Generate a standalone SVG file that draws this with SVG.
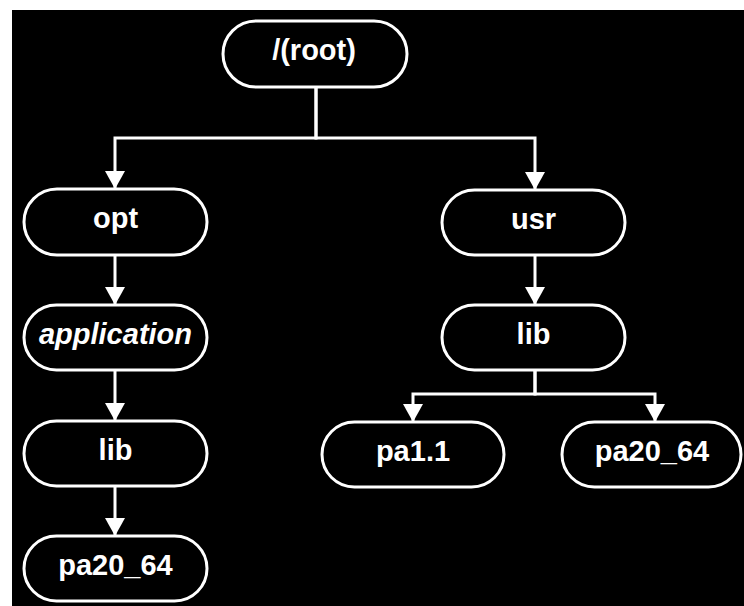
<svg xmlns="http://www.w3.org/2000/svg" width="744" height="606" viewBox="0 0 744 606">
<style>
.box{fill:#000;stroke:#fff;stroke-width:3}
.lbl{fill:#fff;font-family:"Liberation Sans",Arial,sans-serif;font-weight:bold;font-size:29px;text-anchor:middle}
.it{font-style:italic}
.con{fill:none;stroke:#fff;stroke-width:3;marker-end:url(#ah)}
</style>
<defs>
<marker id="ah" viewBox="0 0 18 20" refX="18" refY="10" markerWidth="18" markerHeight="20" markerUnits="userSpaceOnUse" orient="auto">
<path d="M0,0 L18,10 L0,20 z" fill="#fff"/>
</marker>
</defs>
<rect x="0" y="0" width="744" height="606" fill="#fff"/>
<rect x="12" y="10" width="732" height="596" fill="#000"/>
<g id="connectors">
<path class="con" d="M316,87 V138 H115 V189"/>
<path class="con" d="M316,87 V138 H535 V190"/>
<path class="con" d="M115,255 V305"/>
<path class="con" d="M535,255 V305"/>
<path class="con" d="M115,370 V421"/>
<path class="con" d="M115,486 V536"/>
<path class="con" d="M535,370 V394 H413 V422"/>
<path class="con" d="M535,370 V394 H655 V422"/>
</g>
<g id="root"><rect class="box" x="223" y="21" width="184" height="66" rx="33"/><text class="lbl" x="314" y="60">/(root)</text></g>
<g id="opt"><rect class="box" x="24" y="189" width="183" height="66" rx="33"/><text class="lbl" x="115.5" y="228">opt</text></g>
<g id="usr"><rect class="box" x="442" y="190" width="183" height="65" rx="32.5"/><text class="lbl" x="533.5" y="229">usr</text></g>
<g id="application"><rect class="box" x="24" y="305" width="183" height="65" rx="32.5"/><text class="lbl it" x="115.5" y="344">application</text></g>
<g id="lib_usr"><rect class="box" x="442" y="305" width="183" height="65" rx="32.5"/><text class="lbl" x="533.5" y="344">lib</text></g>
<g id="lib_app"><rect class="box" x="24" y="421" width="183" height="65" rx="32.5"/><text class="lbl" x="115.5" y="460">lib</text></g>
<g id="pa11"><rect class="box" x="322" y="422" width="182" height="65" rx="32.5"/><text class="lbl" x="413" y="461">pa1.1</text></g>
<g id="pa20_64_usr"><rect class="box" x="562" y="422" width="179" height="65" rx="32.5"/><text class="lbl" x="652" y="461">pa20_64</text></g>
<g id="pa20_64_app"><rect class="box" x="24" y="536" width="183" height="65" rx="32.5"/><text class="lbl" x="115.5" y="575">pa20_64</text></g>
</svg>
